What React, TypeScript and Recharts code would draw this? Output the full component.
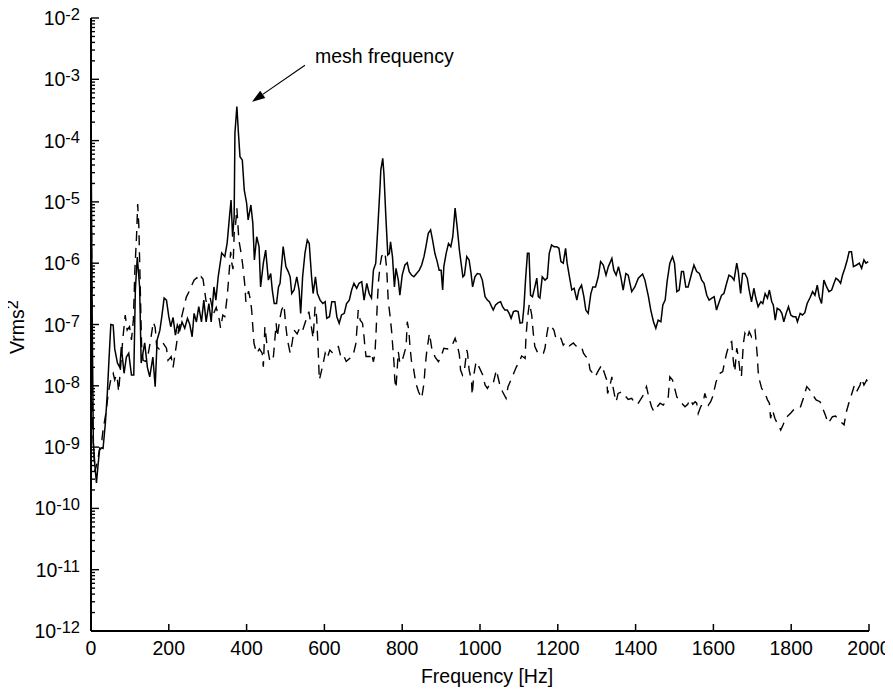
import { Label, Line, LineChart, ReferenceLine, XAxis, YAxis } from "recharts";

// [frequency Hz, Vrms^2]
const SOLID: [number, number][] = [
  [0, 2.2e-4], [3, 1.5e-7], [6, 1.2e-9], [10, 5e-10], [14, 2.6e-10], [18, 5e-10], [22, 9e-10], [27, 9.7e-10],
  [31, 9.5e-10], [37, 2.5e-9], [42, 7.6e-9], [46, 2.5e-8], [51, 1e-7], [57, 9.8e-8], [61, 4e-8], [68, 2.35e-8],
  [74, 2.0e-8], [78, 4.3e-8], [85, 1.6e-8], [91, 2.95e-8], [97, 3.4e-8], [104, 1.5e-8], [110, 1.5e-8], [114, 3.65e-7],
  [119, 1.26e-6], [125, 4.1e-7], [129, 2.35e-8], [138, 5e-8], [145, 2e-8], [151, 1.4e-8], [159, 2.95e-8], [165, 9.7e-9],
  [170, 5.6e-8], [177, 8e-8], [182, 1.34e-7], [188, 2.7e-7], [194, 2.5e-7], [200, 1.34e-7], [205, 9.2e-8], [211, 1.3e-7],
  [217, 6.7e-8], [222, 9.8e-8], [228, 8e-8], [234, 1.1e-7], [241, 8.7e-8], [248, 1.26e-7], [254, 1e-7], [260, 6.3e-8],
  [265, 1.52e-7], [271, 1.1e-7], [277, 1.95e-7], [284, 1.1e-7], [290, 2.5e-7], [296, 1.1e-7], [303, 2.2e-7], [309, 1.1e-7],
  [316, 4.1e-7], [321, 2.5e-7], [327, 6e-7], [336, 1.47e-6], [344, 1.28e-6], [350, 2.13e-6], [356, 5.7e-6], [360, 1.07e-5],
  [364, 2.7e-6], [368, 5.7e-6], [370, 1.33e-4], [375, 3.6e-4], [379, 1.33e-4], [383, 5.45e-5], [389, 4.8e-5], [394, 1.56e-5],
  [400, 9.6e-6], [404, 5.1e-6], [411, 8.9e-6], [416, 4.5e-6], [420, 1.13e-6], [426, 2.7e-6], [432, 1.86e-6], [436, 4.1e-7],
  [443, 1e-6], [449, 1.64e-6], [456, 5.3e-7], [462, 6.8e-7], [466, 3.65e-7], [471, 2.2e-7], [477, 2.2e-7], [482, 4.1e-7],
  [486, 4.7e-7], [494, 1.86e-6], [501, 8.8e-7], [507, 7.3e-7], [512, 6e-7], [516, 3.2e-7], [522, 3.65e-7], [529, 6e-7],
  [535, 3.65e-7], [539, 1.52e-7], [544, 6e-7], [550, 1.45e-6], [556, 2.4e-6], [561, 2.1e-6], [567, 6e-7], [571, 3.2e-7],
  [577, 6e-7], [582, 3.2e-7], [589, 2.5e-7], [596, 2.2e-7], [602, 2.35e-7], [606, 1.26e-7], [613, 1.34e-7], [619, 2.35e-7],
  [627, 2.35e-7], [632, 1.34e-7], [638, 1.05e-7], [644, 1.43e-7], [651, 1.52e-7], [657, 2.2e-7], [664, 2.5e-7], [670, 3.65e-7],
  [676, 4.7e-7], [683, 3.9e-7], [689, 4.7e-7], [696, 5e-7], [702, 2.5e-7], [709, 4.7e-7], [715, 3.2e-7], [721, 2.7e-7],
  [726, 7.7e-7], [732, 1e-6], [737, 3.5e-6], [743, 1.77e-5], [745, 3.3e-5], [750, 5.15e-5], [753, 2.9e-5], [758, 5.7e-6],
  [763, 1.36e-6], [767, 1.45e-6], [770, 2.24e-6], [775, 1.28e-6], [780, 4.1e-7], [784, 8.25e-7], [790, 5.3e-7], [794, 3e-7],
  [800, 6.4e-7], [807, 9.35e-7], [813, 1.02e-6], [818, 7.3e-7], [824, 6.4e-7], [830, 6e-7], [837, 6.8e-7], [844, 7.7e-7],
  [850, 9.35e-7], [856, 1.28e-6], [861, 1.86e-6], [867, 3.07e-6], [873, 3.5e-6], [878, 2.4e-6], [884, 1.45e-6], [890, 1.06e-6],
  [895, 7.7e-7], [900, 7.7e-7], [904, 3.65e-7], [907, 8.8e-7], [913, 1.45e-6], [919, 2.1e-6], [925, 1.86e-6], [930, 2.7e-6],
  [936, 7.9e-6], [942, 3.5e-6], [947, 1.64e-6], [956, 6e-7], [960, 6.4e-7], [966, 1.28e-6], [972, 1.13e-6], [977, 6.8e-7],
  [981, 4.1e-7], [987, 6e-7], [993, 6.8e-7], [1000, 6.65e-7], [1006, 5.3e-7], [1013, 2.84e-7], [1019, 2.5e-7], [1024, 2.35e-7],
  [1030, 1.95e-7], [1034, 1.72e-7], [1040, 2.08e-7], [1047, 2.27e-7], [1053, 2.35e-7], [1058, 1.95e-7], [1064, 1.72e-7], [1070, 1.72e-7],
  [1075, 1.52e-7], [1080, 1.26e-7], [1086, 1.62e-7], [1092, 1.68e-7], [1098, 1.62e-7], [1103, 1.05e-7], [1109, 1.07e-7], [1113, 1.95e-7],
  [1117, 5.3e-7], [1122, 1.45e-6], [1126, 1.45e-6], [1130, 3e-7], [1135, 2.84e-7], [1141, 4.1e-7], [1146, 5.7e-7], [1150, 2.84e-7],
  [1154, 2.7e-7], [1160, 6e-7], [1167, 5.3e-7], [1173, 5.7e-7], [1178, 1.45e-6], [1184, 1.98e-6], [1190, 1.86e-6], [1197, 1.86e-6],
  [1203, 1.75e-6], [1208, 1.06e-6], [1214, 1e-6], [1220, 1.75e-6], [1224, 1e-6], [1230, 6e-7], [1236, 3.65e-7], [1242, 3.9e-7],
  [1249, 2.5e-7], [1254, 3.65e-7], [1261, 4.4e-7], [1267, 2.84e-7], [1272, 1.72e-7], [1278, 1.52e-7], [1285, 3.2e-7], [1290, 4.1e-7],
  [1297, 4.1e-7], [1304, 6e-7], [1310, 1.06e-6], [1317, 9.35e-7], [1324, 6.4e-7], [1330, 8.8e-7], [1339, 1.2e-6], [1344, 7.7e-7],
  [1350, 6.4e-7], [1356, 8.8e-7], [1362, 6e-7], [1368, 3.65e-7], [1375, 6.8e-7], [1381, 6.4e-7], [1390, 3.43e-7], [1398, 4.1e-7],
  [1407, 5.7e-7], [1418, 6.65e-7], [1424, 5.3e-7], [1433, 2.84e-7], [1439, 1.72e-7], [1446, 1.11e-7], [1452, 8.7e-8], [1458, 1.18e-7],
  [1465, 1.11e-7], [1470, 2.08e-7], [1476, 2.5e-7], [1481, 5e-7], [1488, 1e-6], [1495, 1.28e-6], [1500, 1e-6], [1506, 3.43e-7],
  [1512, 3.65e-7], [1518, 7.3e-7], [1523, 7.3e-7], [1529, 4.1e-7], [1535, 4.1e-7], [1544, 6.8e-7], [1550, 9.35e-7], [1557, 7.3e-7],
  [1564, 6.8e-7], [1570, 5.3e-7], [1576, 4.7e-7], [1583, 3e-7], [1589, 2.5e-7], [1596, 2.7e-7], [1602, 2.84e-7], [1608, 1.72e-7],
  [1615, 2.35e-7], [1621, 3e-7], [1627, 3.2e-7], [1634, 4.7e-7], [1640, 6.4e-7], [1647, 6e-7], [1653, 5.3e-7], [1660, 1e-6],
  [1664, 7.3e-7], [1670, 3.2e-7], [1675, 6.8e-7], [1681, 6.8e-7], [1687, 5.7e-7], [1692, 3.65e-7], [1698, 2.35e-7], [1704, 3.9e-7],
  [1709, 2.7e-7], [1715, 1.95e-7], [1722, 2.35e-7], [1727, 2.2e-7], [1733, 3.2e-7], [1739, 2.7e-7], [1744, 3.65e-7], [1750, 2.35e-7],
  [1754, 2.08e-7], [1759, 1.18e-7], [1764, 1.84e-7], [1771, 1.72e-7], [1776, 1.52e-7], [1781, 1.11e-7], [1787, 1.52e-7], [1793, 1.95e-7],
  [1799, 1.43e-7], [1805, 1.34e-7], [1812, 1.34e-7], [1816, 1.11e-7], [1823, 1.52e-7], [1829, 1.43e-7], [1835, 1.56e-7], [1841, 2.2e-7],
  [1848, 2.7e-7], [1855, 3.43e-7], [1861, 3e-7], [1867, 4.4e-7], [1872, 2.84e-7], [1878, 2.2e-7], [1884, 5.3e-7], [1891, 4.1e-7],
  [1897, 3.43e-7], [1904, 3.65e-7], [1910, 4.7e-7], [1915, 5.7e-7], [1921, 5.3e-7], [1927, 4.7e-7], [1932, 6.4e-7], [1938, 8.25e-7],
  [1944, 1.13e-6], [1949, 1.54e-6], [1955, 1.54e-6], [1960, 8.8e-7], [1968, 9.35e-7], [1975, 1e-6], [1981, 8.25e-7], [1987, 1.13e-6],
  [1992, 1e-6], [1998, 1.06e-6],
];

const DASHED: [number, number][] = [
  [0, 8e-5], [4, 2e-9], [10, 4e-10], [17, 6e-10], [24, 1.1e-9], [28, 1.3e-9], [31, 1.9e-9], [38, 3.5e-9],
  [45, 8e-9], [52, 1.4e-8], [57, 1.6e-8], [61, 1.25e-8], [65, 1.5e-8], [68, 1.25e-8], [71, 8e-9], [76, 2e-8],
  [82, 6e-8], [88, 1.43e-7], [93, 8.1e-8], [99, 9.2e-8], [104, 5.6e-8], [109, 1.2e-7], [113, 8.4e-7], [117, 2.7e-6],
  [120, 9.2e-6], [123, 4e-6], [126, 6e-7], [130, 4.6e-8], [134, 2.6e-8], [140, 2.5e-8], [146, 3e-8], [152, 5e-8],
  [157, 8e-8], [160, 1.1e-7], [165, 9e-8], [169, 4.3e-8], [175, 4e-8], [185, 5e-8], [194, 4.1e-8], [198, 2.6e-8],
  [206, 3e-8], [211, 2e-8], [218, 4e-8], [225, 8e-8], [235, 1.5e-7], [245, 2.8e-7], [254, 3.65e-7], [260, 4.5e-7],
  [265, 5.3e-7], [272, 5.8e-7], [278, 5.2e-7], [283, 6e-7], [288, 5.5e-7], [296, 2.35e-7], [301, 2.84e-7], [306, 2.8e-7],
  [315, 1.5e-7], [322, 1.9e-7], [330, 1.18e-7], [333, 8.8e-8], [339, 1.43e-7], [344, 1.34e-7], [350, 2.84e-7], [353, 4.7e-7],
  [359, 1.54e-6], [362, 1e-6], [365, 8e-7], [368, 3e-6], [372, 4.5e-6], [375, 7.9e-6], [377, 5e-6], [380, 2.4e-6],
  [386, 1.45e-6], [390, 9.35e-7], [396, 4.1e-7], [398, 2.35e-7], [405, 3.5e-7], [410, 2.5e-7], [413, 1.72e-7], [416, 9.2e-8],
  [419, 4.9e-8], [426, 3.4e-8], [433, 4e-8], [440, 3.4e-8], [443, 2.05e-8], [447, 9.2e-8], [452, 4.9e-8], [460, 2.47e-8],
  [469, 3e-8], [476, 1.05e-7], [479, 6.3e-8], [485, 1.2e-7], [490, 1.72e-7], [496, 2.08e-7], [501, 9.2e-8], [505, 5.6e-8],
  [512, 3.4e-8], [517, 5e-8], [522, 8.1e-8], [530, 7e-8], [537, 9e-8], [544, 8e-8], [550, 1.05e-7], [560, 1.62e-7],
  [567, 8.7e-8], [571, 5.95e-8], [576, 1.95e-7], [580, 1.34e-7], [584, 3.84e-8], [587, 1.24e-8], [596, 2.18e-8], [602, 3.4e-8],
  [607, 2.8e-8], [614, 3.84e-8], [620, 3.5e-8], [628, 4e-8], [636, 4.35e-8], [642, 3e-8], [649, 3.2e-8], [656, 2.5e-8],
  [665, 2.8e-8], [673, 3e-8], [681, 4.9e-8], [687, 1.72e-7], [692, 1.18e-7], [698, 1.05e-7], [702, 6.3e-8], [704, 4.35e-8],
  [707, 3e-8], [712, 3e-8], [717, 3e-8], [721, 3.4e-8], [726, 2.47e-8], [730, 3.4e-8], [733, 8e-8], [736, 2.2e-7],
  [739, 5e-7], [743, 9e-7], [747, 1.28e-6], [752, 1.5e-6], [756, 1.45e-6], [760, 8.25e-7], [762, 4.7e-7], [764, 2.5e-7],
  [769, 1.34e-7], [773, 7.6e-8], [776, 4.1e-8], [779, 2.33e-8], [781, 1.24e-8], [784, 9.1e-9], [790, 3.6e-8], [794, 2.33e-8],
  [799, 2.5e-8], [803, 3e-8], [810, 4.35e-8], [813, 1.11e-7], [817, 8.1e-8], [820, 4.35e-8], [824, 2.47e-8], [829, 1.93e-8],
  [835, 1.1e-8], [842, 8e-9], [850, 6.25e-9], [856, 1.1e-8], [859, 2.05e-8], [863, 3.6e-8], [870, 7.2e-8], [876, 4.1e-8],
  [884, 3e-8], [893, 2.47e-8], [900, 3e-8], [907, 4.1e-8], [917, 4e-8], [927, 4.35e-8], [936, 5.95e-8], [942, 4.5e-8],
  [947, 3.2e-8], [950, 1.81e-8], [955, 1.5e-8], [960, 1.81e-8], [966, 3.84e-8], [968, 3.4e-8], [972, 1.81e-8], [978, 1.24e-8],
  [980, 7.1e-9], [984, 1.5e-8], [990, 2.47e-8], [998, 2e-8], [1007, 1.5e-8], [1013, 1.03e-8], [1019, 9.1e-9], [1026, 1.1e-8],
  [1034, 1.1e-8], [1042, 1.81e-8], [1051, 1.03e-8], [1058, 8e-9], [1067, 6.25e-9], [1072, 9.7e-9], [1085, 1.5e-8], [1093, 2e-8],
  [1101, 2.47e-8], [1107, 3.06e-8], [1113, 2.9e-8], [1116, 2.8e-8], [1118, 5.95e-8], [1121, 1.05e-7], [1124, 1.6e-7], [1127, 2.2e-7],
  [1133, 1.43e-7], [1137, 7.2e-8], [1141, 4.35e-8], [1148, 3.5e-8], [1156, 3.2e-8], [1163, 3.4e-8], [1167, 4.1e-8], [1172, 7e-8],
  [1176, 9.8e-8], [1184, 9.2e-8], [1190, 8.1e-8], [1195, 6e-8], [1201, 6.5e-8], [1208, 5.95e-8], [1214, 4.6e-8], [1221, 5.2e-8],
  [1230, 4.5e-8], [1240, 5e-8], [1246, 4.5e-8], [1253, 4.35e-8], [1261, 4.35e-8], [1266, 3.4e-8], [1272, 3e-8], [1278, 2.8e-8],
  [1283, 1.81e-8], [1290, 1.6e-8], [1296, 1.4e-8], [1305, 1.8e-8], [1313, 2.18e-8], [1320, 1.6e-8], [1326, 1.24e-8], [1328, 7.5e-9],
  [1334, 1e-8], [1339, 1.4e-8], [1341, 1.03e-8], [1346, 7e-9], [1350, 5.5e-9], [1355, 7.5e-9], [1364, 8e-9], [1372, 7e-9],
  [1381, 6e-9], [1390, 6.25e-9], [1398, 5.2e-9], [1405, 5e-9], [1413, 6e-9], [1420, 7.1e-9], [1428, 9.7e-9], [1434, 6.5e-9],
  [1441, 4.55e-9], [1447, 3.8e-9], [1455, 4.5e-9], [1463, 5.2e-9], [1471, 4.85e-9], [1478, 5.5e-9], [1484, 6.6e-9], [1488, 1.4e-8],
  [1495, 1.24e-8], [1506, 6.6e-9], [1515, 5.5e-9], [1521, 5e-9], [1527, 4.55e-9], [1534, 5e-9], [1540, 6e-9], [1547, 5e-9],
  [1553, 5.5e-9], [1557, 5.2e-9], [1561, 3.55e-9], [1567, 4.5e-9], [1574, 5.5e-9], [1578, 7.5e-9], [1587, 4.85e-9], [1593, 5.5e-9],
  [1598, 6.6e-9], [1607, 1.17e-8], [1612, 1.4e-8], [1617, 1.6e-8], [1624, 1.7e-8], [1629, 2.5e-8], [1634, 3.4e-8], [1641, 4.9e-8],
  [1647, 5.25e-8], [1651, 2.63e-8], [1655, 1.7e-8], [1660, 4.1e-8], [1664, 3e-8], [1668, 1.81e-8], [1672, 1.4e-8], [1677, 4.9e-8],
  [1681, 7.2e-8], [1687, 5.95e-8], [1692, 7.6e-8], [1698, 6.3e-8], [1703, 7.5e-8], [1707, 8.1e-8], [1709, 5.95e-8], [1713, 3e-8],
  [1715, 1.7e-8], [1719, 1.2e-8], [1724, 9.1e-9], [1733, 7.5e-9], [1739, 5.9e-9], [1744, 5.2e-9], [1747, 2.95e-9], [1752, 4e-9],
  [1758, 2.95e-9], [1762, 2.6e-9], [1767, 2.3e-9], [1773, 1.9e-9], [1779, 2.3e-9], [1786, 3e-9], [1793, 3.3e-9], [1799, 3.6e-9],
  [1805, 4e-9], [1814, 4.55e-9], [1824, 4.55e-9], [1832, 6.5e-9], [1840, 9.7e-9], [1848, 8.5e-9], [1856, 7e-9], [1864, 5.9e-9],
  [1874, 5.5e-9], [1881, 4.3e-9], [1888, 3.3e-9], [1895, 2.45e-9], [1906, 3.13e-9], [1914, 3.2e-9], [1922, 2.8e-9], [1930, 2.5e-9],
  [1936, 2.3e-9], [1941, 3.6e-9], [1948, 5.2e-9], [1956, 7.5e-9], [1962, 1e-8], [1968, 8e-9], [1977, 1.03e-8], [1981, 1.3e-8],
  [1987, 1.03e-8], [1994, 1.24e-8], [2000, 1.1e-8],
];

const X_TICKS = [0, 200, 400, 600, 800, 1000, 1200, 1400, 1600, 1800, 2000];
const DECADES = [1e-12, 1e-11, 1e-10, 1e-9, 1e-8, 1e-7, 1e-6, 1e-5, 1e-4, 1e-3, 1e-2];
const MINOR_STEPS = [2, 3, 4, 5, 6, 7, 8, 9];

// annotation arrow: tail near the text, head pointing at the mesh peak
const ARROW_TAIL = { x: 550, y: 1.7e-3 };
const ARROW_HEAD = { x: 414, y: 4.3e-4 };
const ARROW_TEXT = "mesh frequency";

const Y_TICKS = [
  ...DECADES,
  ...DECADES.slice(0, -1).flatMap((d) => MINOR_STEPS.map((m) => m * d)),
].sort((a, b) => a - b);

const solidData = SOLID.map(([f, v]) => ({ f, v }));
const dashedData = DASHED.map(([f, v]) => ({ f, v }));

const FONT = '"Liberation Sans", Arial, Helvetica, sans-serif';
const INK = "#000";
const TEXT_SIZE = 19.5;
const SUP_SIZE = 16.5;

const isDecade = (v: number) => Math.abs(Math.log10(v) - Math.round(Math.log10(v))) < 1e-6;

function BottomTick({ x, y, payload }: any) {
  return (
    <g>
      <line x1={x} x2={x} y1={y} y2={y - 7} stroke={INK} strokeWidth={1.5} />
      <text x={x} y={y + 24} textAnchor="middle" fontSize={TEXT_SIZE} fontFamily={FONT} fill={INK}>
        {payload.value}
      </text>
    </g>
  );
}

function TopTick({ x, y }: any) {
  return <line x1={x} x2={x} y1={y} y2={y + 7} stroke={INK} strokeWidth={1.5} />;
}

function LeftTick({ x, y, payload }: any) {
  const major = isDecade(payload.value);
  const exp = Math.round(Math.log10(payload.value));
  return (
    <g>
      <line x1={x} x2={x + (major ? 8 : 4)} y1={y} y2={y} stroke={INK} strokeWidth={1.4} />
      {major && (
        <text x={x - 11} y={y + 7} textAnchor="end" fontSize={TEXT_SIZE} fontFamily={FONT} fill={INK}>
          10
          <tspan dy={-5} fontSize={SUP_SIZE}>
            {exp}
          </tspan>
        </text>
      )}
    </g>
  );
}

function RightTick({ x, y, payload }: any) {
  const major = isDecade(payload.value);
  return <line x1={x} x2={x - (major ? 8 : 4)} y1={y} y2={y} stroke={INK} strokeWidth={1.4} />;
}

function Arrow({ x1, y1, x2, y2 }: any) {
  const dx = x2 - x1;
  const dy = y2 - y1;
  const len = Math.sqrt(dx * dx + dy * dy);
  const ux = dx / len;
  const uy = dy / len;
  const head = 13;
  const half = 4.5;
  const bx = x2 - ux * head;
  const by = y2 - uy * head;
  const pts = `${x2},${y2} ${bx - uy * half},${by + ux * half} ${bx + uy * half},${by - ux * half}`;
  return (
    <g>
      <line x1={x1} y1={y1} x2={bx} y2={by} stroke={INK} strokeWidth={1.2} />
      <polygon points={pts} fill={INK} />
      <text x={x1 + 10} y={y1 - 2} fontSize={TEXT_SIZE} fontFamily={FONT} fill={INK}>
        {ARROW_TEXT}
      </text>
    </g>
  );
}

const axisLine = { stroke: INK, strokeWidth: 2 };

export default function App() {
  return (
    <div style={{ margin: -8 }}>
      <LineChart width={893} height={695} margin={{ top: 18, right: 24, bottom: 8, left: 0 }}>
        <XAxis
          xAxisId="b"
          dataKey="f"
          type="number"
          domain={[0, 2000]}
          ticks={X_TICKS}
          interval={0}
          tickSize={0}
          tickMargin={0}
          tickLine={false}
          axisLine={axisLine}
          tick={(p: any) => <BottomTick {...p} />}
          height={56}
        >
          <Label
            content={({ viewBox }: any) => (
              <text
                x={viewBox.x + viewBox.width / 2 + 7}
                y={viewBox.y + 52}
                textAnchor="middle"
                fontSize={TEXT_SIZE}
                fontFamily={FONT}
                fill={INK}
              >
                Frequency [Hz]
              </text>
            )}
          />
        </XAxis>
        <XAxis
          xAxisId="t"
          orientation="top"
          dataKey="f"
          type="number"
          domain={[0, 2000]}
          ticks={X_TICKS}
          interval={0}
          tickSize={0}
          tickMargin={0}
          tickLine={false}
          axisLine={axisLine}
          tick={(p: any) => <TopTick {...p} />}
          height={0}
        />
        <YAxis
          yAxisId="l"
          type="number"
          scale="log"
          domain={[1e-12, 1e-2]}
          allowDataOverflow
          ticks={Y_TICKS}
          interval={0}
          tickSize={0}
          tickMargin={0}
          tickLine={false}
          axisLine={axisLine}
          tick={(p: any) => <LeftTick {...p} />}
          width={91}
        >
          <Label
            content={({ viewBox }: any) => {
              const cx = viewBox.x + 24;
              const cy = viewBox.y + 309;
              return (
                <text
                  x={cx}
                  y={cy}
                  transform={`rotate(-90 ${cx} ${cy})`}
                  textAnchor="middle"
                  fontSize={TEXT_SIZE}
                  fontFamily={FONT}
                  fill={INK}
                >
                  Vrms
                  <tspan dy={-6} fontSize={SUP_SIZE}>
                    2
                  </tspan>
                </text>
              );
            }}
          />
        </YAxis>
        <YAxis
          yAxisId="r"
          orientation="right"
          type="number"
          scale="log"
          domain={[1e-12, 1e-2]}
          allowDataOverflow
          ticks={Y_TICKS}
          interval={0}
          tickSize={0}
          tickMargin={0}
          tickLine={false}
          axisLine={axisLine}
          tick={(p: any) => <RightTick {...p} />}
          width={0}
        />
        <Line
          xAxisId="b"
          yAxisId="l"
          data={dashedData}
          dataKey="v"
          type="linear"
          stroke={INK}
          strokeWidth={1.4}
          strokeDasharray="10 7"
          dot={false}
          isAnimationActive={false}
        />
        <Line
          xAxisId="b"
          yAxisId="l"
          data={solidData}
          dataKey="v"
          type="linear"
          stroke={INK}
          strokeWidth={1.5}
          dot={false}
          isAnimationActive={false}
        />
        <ReferenceLine
          xAxisId="b"
          yAxisId="l"
          segment={[ARROW_TAIL, ARROW_HEAD]}
          shape={(p: any) => <Arrow {...p} />}
        />
      </LineChart>
    </div>
  );
}
